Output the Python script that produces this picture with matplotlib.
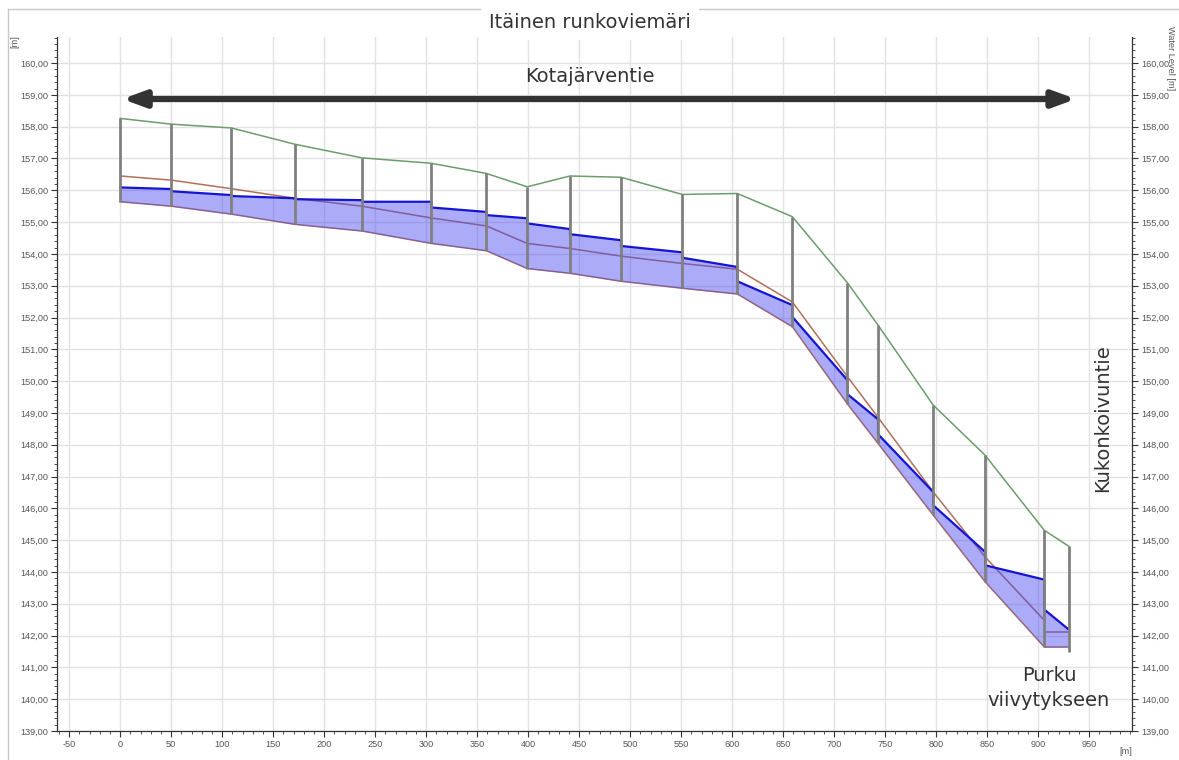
import matplotlib
matplotlib.use("Agg")
import matplotlib.pyplot as plt
from matplotlib.ticker import MultipleLocator, FuncFormatter
from matplotlib.lines import Line2D

# ---------------- data ----------------
chainage = [0, 50, 109, 171, 237, 305, 359, 399, 441, 491, 551, 605, 659, 713, 743, 797, 848, 906, 930]
ground = [158.26, 158.08, 157.96, 157.45, 157.02, 156.85, 156.53, 156.11, 156.45, 156.41,
          155.87, 155.90, 155.17, 153.09, 151.76, 149.25, 147.67, 145.31, 144.81]
invert = [155.64, 155.50, 155.25, 154.93, 154.72, 154.33, 154.10, 153.54, 153.39, 153.14,
          152.92, 152.74, 151.71, 149.28, 148.04, 145.79, 143.69, 141.64, 141.64]
manhole_bottom = [155.64, 155.50, 155.25, 154.93, 154.72, 154.33, 154.10, 153.54, 153.39, 153.14,
                  152.92, 152.74, 151.71, 149.28, 148.04, 145.79, 143.69, 141.64, 141.49]
# water level per pipe segment (start, end)
water_start = [156.09, 155.97, 155.82, 155.72, 155.64, 155.46, 155.22, 154.96, 154.62,
               154.25, 153.88, 153.14, 152.02, 149.59, 148.33, 146.10, 144.21, 142.82]
water_end = [156.04, 155.85, 155.75, 155.69, 155.64, 155.32, 155.12, 154.78, 154.43,
             154.05, 153.59, 152.39, 150.03, 148.80, 146.52, 144.63, 143.76, 142.19]
# pipe crown per segment (start, end)
crown_start = [156.45, 156.32, 156.05, 155.75, 155.50, 155.13, 154.88, 154.33, 154.17,
               153.93, 153.70, 153.52, 152.49, 150.14, 148.86, 146.52, 144.47, 142.10]
crown_end = [156.32, 156.05, 155.75, 155.50, 155.13, 154.88, 154.33, 154.17, 153.93,
             153.70, 153.52, 152.49, 150.14, 148.86, 146.52, 144.47, 142.48, 142.10]

title = "Itäinen runkoviemäri"
street_top = "Kotajärventie"
street_right = "Kukonkoivuntie"
outlet_label = "Purku\nviivytykseen"
arrow_x = [2, 937]
arrow_y = 158.87

# ---------------- figure ----------------
W, H = 1179, 760
fig = plt.figure(figsize=(W / 100, H / 100), dpi=100)
ax = fig.add_axes([57 / W, 1 - 731 / H, (1132 - 57) / W, (731 - 37) / H])

ax.set_xlim(-62, 992)
ax.set_ylim(139, 160.82)

ax.xaxis.set_major_locator(MultipleLocator(50))
ax.xaxis.set_minor_locator(MultipleLocator(10))
ax.yaxis.set_major_locator(MultipleLocator(1))
ax.yaxis.set_minor_locator(MultipleLocator(0.2))
ax.yaxis.set_major_formatter(FuncFormatter(lambda v, p: f"{v:.2f}".replace(".", ",")))
ax.xaxis.set_major_formatter(FuncFormatter(lambda v, p: f"{v:.0f}"))

ax.grid(True, which="major", color="#e2e2e2", lw=1.0, zorder=0)
ax.set_axisbelow(True)
ax.tick_params(axis="both", which="both", direction="out", colors="#333333",
               labelsize=6.6, labelcolor="#555555")
ax.tick_params(axis="y", which="both", right=True, labelright=True)
ax.tick_params(which="major", length=4, width=0.8, pad=2.5)
ax.tick_params(which="minor", length=2, width=0.6)
for lab in ax.get_xticklabels() + ax.get_yticklabels():
    lab.set_family("Liberation Sans")
ax.spines["top"].set_visible(False)
for s in ("left", "right", "bottom"):
    ax.spines[s].set_color("#333333")
    ax.spines[s].set_linewidth(0.9)

# ground line
ax.plot(chainage, ground, color="#6a9e6a", lw=1.1, zorder=3)

# pipe outline (crown + invert)
brown = "#b0705a"
for i in range(len(chainage) - 1):
    xs = [chainage[i], chainage[i + 1]]
    ax.plot(xs, [crown_start[i], crown_end[i]], color=brown, lw=1.1, zorder=3)
ax.plot(chainage, invert, color=brown, lw=1.1, zorder=3)

# water fill + water line
for i in range(len(chainage) - 1):
    xs = [chainage[i], chainage[i + 1]]
    ax.fill_between(xs, [invert[i], invert[i + 1]], [water_start[i], water_end[i]],
                    color="#4646f0", alpha=0.45, lw=0, zorder=4)
wx, wy = [], []
for i in range(len(chainage) - 1):
    wx += [chainage[i], chainage[i + 1]]
    wy += [water_start[i], water_end[i]]
ax.plot(wx, wy, color="#1414d2", lw=1.6, zorder=5)

# manholes
ax.vlines(chainage, manhole_bottom, ground, color="#808080", lw=2.0, zorder=6)

# arrow
ax.annotate("", xy=(arrow_x[1], arrow_y), xytext=(arrow_x[0], arrow_y),
            arrowprops=dict(arrowstyle="<|-|>,head_length=0.6,head_width=0.22",
                            color="#333333", lw=4.5,
                            mutation_scale=22, shrinkA=0, shrinkB=0), zorder=7)

txt = dict(family="DejaVu Sans", color="#333333", fontsize=14)
fig.text(590 / W, 1 - 77 / H, street_top, ha="center", va="center", **txt)
fig.text(1103 / W, 1 - 418 / H, street_right, ha="center", va="center", rotation=90, **txt)
fig.text(1049 / W, 1 - 688 / H, outlet_label, ha="center", va="center", linespacing=1.45, **txt)

# frame + title
fig.add_artist(Line2D([8 / W, 1.0], [1 - 9 / H, 1 - 9 / H], color="#c8c8c8", lw=1.0))
fig.add_artist(Line2D([8 / W, 8 / W], [1 - 9 / H, 0.0], color="#c8c8c8", lw=1.0))
fig.text(590 / W, 1 - 22 / H, title, ha="center", va="center",
         bbox=dict(facecolor="white", edgecolor="none", pad=6), **txt)

small = dict(family="Liberation Sans", color="#555555", fontsize=6.6)
fig.text(15 / W, 1 - 42 / H, "[m]", rotation=90, ha="center", va="center", **small)
fig.text(1171 / W, 1 - 58 / H, "Water Level [m]", rotation=270, ha="center", va="center", **small)
fig.text(1126 / W, 1 - 752 / H, "[m]", ha="center", va="center", **small)

fig.savefig("out.png", dpi=100)
